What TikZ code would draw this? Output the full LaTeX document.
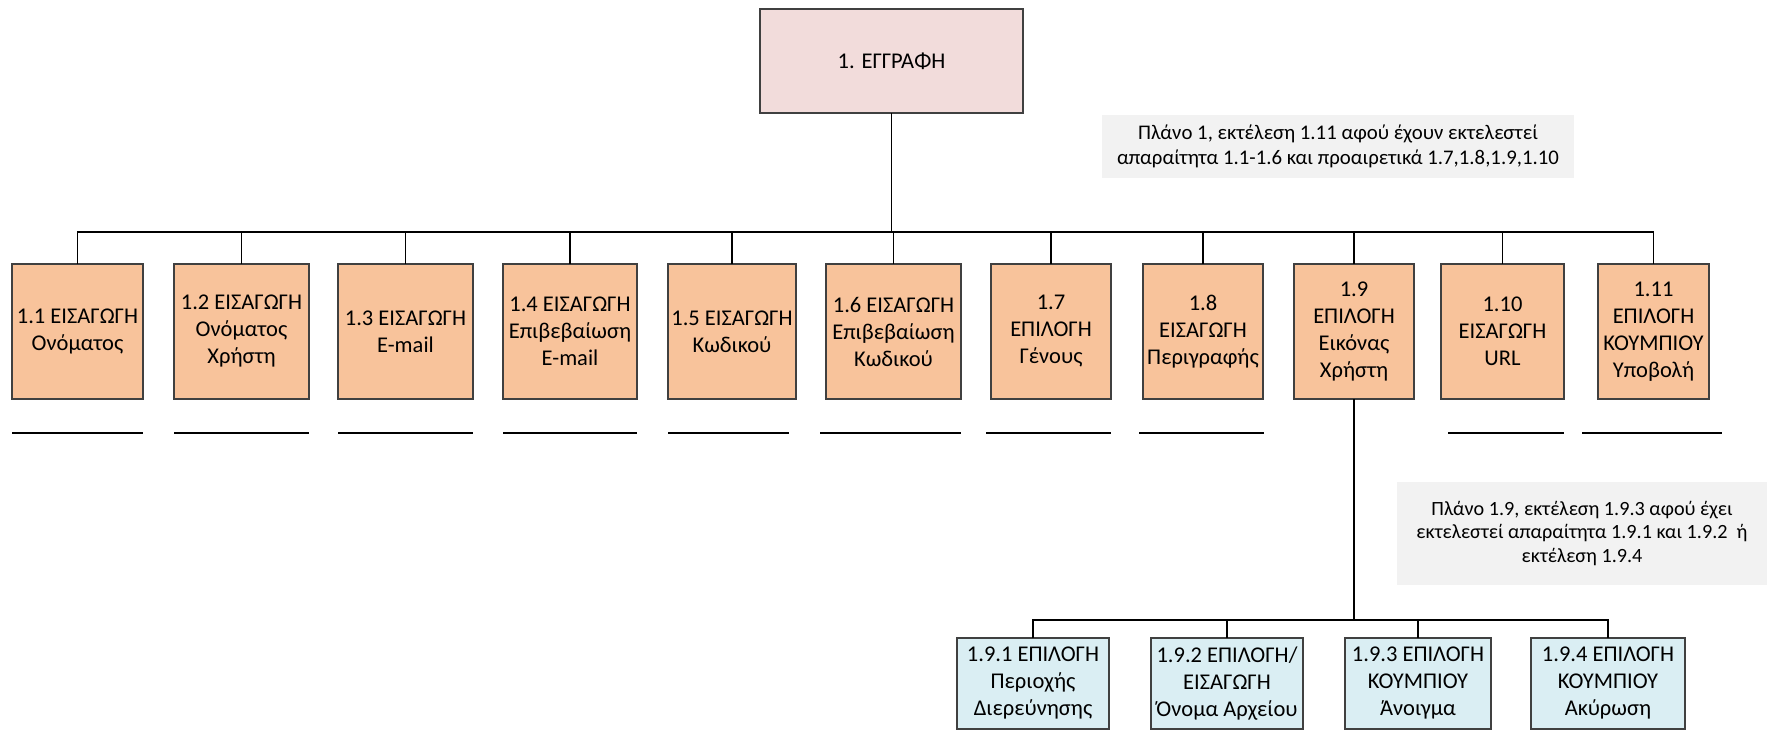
\documentclass[tikz,border=0pt]{standalone}
\usepackage{fontspec}
\setmainfont{Carlito}
\definecolor{rootfill}{HTML}{F2DCDB}
\definecolor{taskfill}{HTML}{F8C39B}
\definecolor{subfill}{HTML}{DAEEF3}
\definecolor{planfill}{HTML}{F2F2F2}
\definecolor{boxline}{HTML}{404040}
\tikzset{
  box/.style={draw=boxline, line width=1.2pt, inner sep=0pt, outer sep=0pt, align=center,
    font=\fontsize{22.5}{27}\selectfont},
  rootbox/.style={box, fill=rootfill},
  taskbox/.style={box, fill=taskfill},
  subbox/.style={box, fill=subfill},
  planbox/.style={fill=planfill, inner sep=0pt, align=center, font=\fontsize{20.8}{25.5}\selectfont},
  link/.style={draw=black, line width=1.2pt},
  rule/.style={draw=black, line width=1.2pt}
}
% place a box from its left/right/top/bottom edges (pixel coordinates)
\newcommand\edgebox[7]{%
  \node[#1, minimum width=#4-#3, minimum height=#6-#5] (#2) at ({(#3+#4)/2},{(#5+#6)/2}) {#7};}
\begin{document}
\begin{tikzpicture}[x=1pt,y=-1pt]
\useasboundingbox (0,0) rectangle (1767,753);

% root
\edgebox{rootbox}{root}{760}{1023}{9}{113}{1. ΕΓΓΡΑΦΗ}

% plan notes
\fill[planfill] (1102,115) rectangle (1574,178);
\node[planbox] (plan1) at (1338,146.5) {Πλάνο 1, εκτέλεση 1.11 αφού έχουν εκτελεστεί\\απαραίτητα 1.1-1.6 και προαιρετικά 1.7,1.8,1.9,1.10};
\fill[planfill] (1397,482) rectangle (1767,585);
\node[planbox, font=\fontsize{20.2}{23.5}\selectfont] (plan19) at (1582,533.5) {Πλάνο 1.9, εκτέλεση 1.9.3 αφού έχει\\εκτελεστεί απαραίτητα 1.9.1 και 1.9.2\ \ ή\\εκτέλεση 1.9.4};

% first level
\edgebox{taskbox}{t1}{12}{143}{264}{399}{1.1 ΕΙΣΑΓΩΓΗ\\Ονόματος}
\edgebox{taskbox}{t2}{174}{309}{264}{399}{1.2 ΕΙΣΑΓΩΓΗ\\Ονόματος\\Χρήστη}
\edgebox{taskbox}{t3}{338}{473}{264}{399}{1.3 ΕΙΣΑΓΩΓΗ\\E-mail}
\edgebox{taskbox}{t4}{503}{637}{264}{399}{1.4 ΕΙΣΑΓΩΓΗ\\Επιβεβαίωση\\E-mail}
\edgebox{taskbox}{t5}{668}{796}{264}{399}{1.5 ΕΙΣΑΓΩΓΗ\\Κωδικού}
\edgebox{taskbox}{t6}{826}{961}{264}{399}{1.6 ΕΙΣΑΓΩΓΗ\\Επιβεβαίωση\\Κωδικού}
\edgebox{taskbox}{t7}{991}{1111}{264}{399}{1.7\\ΕΠΙΛΟΓΗ\\Γένους}
\edgebox{taskbox}{t8}{1143}{1263}{264}{399}{1.8\\ΕΙΣΑΓΩΓΗ\\Περιγραφής}
\edgebox{taskbox}{t9}{1294}{1414}{264}{399}{1.9\\ΕΠΙΛΟΓΗ\\Εικόνας\\Χρήστη}
\edgebox{taskbox}{t10}{1441}{1564}{264}{399}{1.10\\ΕΙΣΑΓΩΓΗ\\URL}
\edgebox{taskbox}{t11}{1598}{1709}{264}{399}{1.11\\ΕΠΙΛΟΓΗ\\ΚΟΥΜΠΙΟΥ\\Υποβολή}

% second level under 1.9
\edgebox{subbox}{s1}{957}{1109}{638}{729}{1.9.1 ΕΠΙΛΟΓΗ\\Περιοχής\\Διερεύνησης}
\edgebox{subbox}{s2}{1151}{1303}{638}{729}{1.9.2 ΕΠΙΛΟΓΗ/\\ΕΙΣΑΓΩΓΗ\\Όνομα Αρχείου}
\edgebox{subbox}{s3}{1345}{1491}{638}{729}{1.9.3 ΕΠΙΛΟΓΗ\\ΚΟΥΜΠΙΟΥ\\Άνοιγμα}
\edgebox{subbox}{s4}{1531}{1685}{638}{729}{1.9.4 ΕΠΙΛΟΓΗ\\ΚΟΥΜΠΙΟΥ\\Ακύρωση}

% tree connectors
\coordinate (bus) at (root.south |- 0,232);
\draw[link] (root.south) -- (bus);
\foreach \n in {t1,t2,t3,t4,t5,t6,t7,t8,t9,t10,t11}
  \draw[link] (bus) -| (\n.north);
\coordinate (subbus) at (t9.south |- 0,620);
\draw[link] (t9.south) -- (subbus);
\foreach \n in {s1,s2,s3,s4}
  \draw[link] (subbus) -| (\n.north);

% blank rules under the first-level boxes
\foreach \a/\b in {12/143,174/309,338/473,503/637,668/789,820/961,986/1111,1139/1264,1448/1564,1582/1722}
  \draw[rule] (\a,433) -- (\b,433);
\end{tikzpicture}
\end{document}
